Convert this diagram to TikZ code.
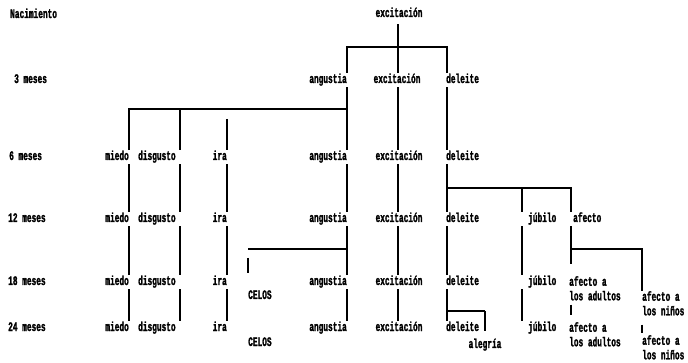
\documentclass[tikz,border=0pt]{standalone}
\usepackage{fontspec}
% tall, narrow, heavy dot-matrix-like lettering
\newfontfamily\dotfont[FakeStretch=0.6,FakeBold=1.5]{Liberation Mono}
\tikzset{
  lbl/.style={font=\dotfont\bfseries\fontsize{13}{14.5}\selectfont, inner sep=2pt, text height=8pt, text depth=2pt},
  two/.style={font=\dotfont\bfseries\fontsize{13}{14.5}\selectfont, inner sep=0pt, align=left, anchor=north west},
  link/.style={line width=1.4pt}
}
\begin{document}
\begin{tikzpicture}[x=1pt,y=-1pt]
\useasboundingbox (0,0) rectangle (688,363);

% age column
\node[lbl,anchor=west] (nac) at (8,15)  {Nacimiento};
\node[lbl,anchor=west] (m3)  at (12,80) {3 meses};
\node[lbl,anchor=west] (m6)  at (7,157) {6 meses};
\node[lbl,anchor=west] (m12) at (6,219) {12 meses};
\node[lbl,anchor=west] (m18) at (6,282) {18 meses};
\node[lbl,anchor=west] (m24) at (6,328) {24 meses};

% birth
\node[lbl] (ex0) at (399,14) {excitación};

% 3 months
\node[lbl,anchor=east] (an3) at (349,80) {angustia};
\node[lbl]             (ex3) at (397,80) {excitación};
\node[lbl,anchor=west] (de3) at (444,80) {deleite};

% 6, 12, 18, 24 months: shared columns
\foreach \r/\y in {6/157,12/219,18/282,24/328}{
  \node[lbl,anchor=east] (mi\r) at (131,\y) {miedo};
  \node[lbl,anchor=west] (di\r) at (136,\y) {disgusto};
  \node[lbl,anchor=east] (ir\r) at (229,\y) {ira};
  \node[lbl,anchor=east] (an\r) at (349,\y) {angustia};
  \node[lbl]             (ex\r) at (399,\y) {excitación};
  \node[lbl,anchor=west] (de\r) at (444,\y) {deleite};
}
\foreach \r/\y in {12/219,18/282,24/328}{
  \node[lbl,anchor=west] (ju\r) at (526,\y) {júbilo};
}
\node[lbl,anchor=west] (af12) at (571,219) {afecto};
\node[two] (ad18) at (569,276) {afecto a\\los adultos};
\node[two] (ad24) at (569,322) {afecto a\\los adultos};
\node[two] (ni18) at (642,291) {afecto a\\los niños};
\node[two] (ni24) at (642,335) {afecto a\\los niños};
\node[lbl,anchor=west] (ce18) at (246,296) {CELOS};
\node[lbl,anchor=west] (ce24) at (246,343) {CELOS};
\node[lbl] (al24) at (485,345) {alegría};

% column lines and branching bars
\coordinate (cMi) at (129,0);
\coordinate (cDi) at (180,0);
\coordinate (cIr) at (227,0);
\coordinate (cCe) at (248,0);
\coordinate (cAn) at (347,0);
\coordinate (cEx) at (398,0);
\coordinate (cDe) at (447,0);
\coordinate (cAl) at (485,0);
\coordinate (cJu) at (522,0);
\coordinate (cAf) at (571,0);
\coordinate (cNi) at (642,0);
\coordinate (bar0) at (0,47);
\coordinate (bar1) at (0,109);
\coordinate (bar2) at (0,188);
\coordinate (bar3) at (0,249);
\coordinate (bar4) at (0,311);

\begin{scope}[link]
  % birth -> 3 months
  \draw[shorten <=3pt] (cEx |- ex0.south) -- (cEx |- ex3.north);
  \draw (cAn |- an3.north) -- (cAn |- bar0) -- (cDe |- bar0) -- (cDe |- de3.north);
  % 3 -> 6 months
  \draw (cAn |- an3.south) -- (cAn |- an6.north);
  \draw (cEx |- ex3.south) -- (cEx |- ex6.north);
  \draw (cDe |- de3.south) -- (cDe |- de6.north);
  \draw (cMi |- mi6.north) -- (cMi |- bar1) -- (cAn |- bar1);
  \draw (cDi |- bar1) -- (cDi |- di6.north);
  \draw[shorten <=10pt] (cIr |- bar1) -- (cIr |- ir6.north);
  % straight continuations down the columns
  \foreach \c/\n in {Mi/mi,Di/di,Ir/ir,An/an,Ex/ex,De/de}{
    \draw (c\c |- \n6.south)  -- (c\c |- \n12.north);
    \draw (c\c |- \n12.south) -- (c\c |- \n18.north);
    \draw (c\c |- \n18.south) -- (c\c |- \n24.north);
  }
  \draw (cJu |- ju12.south) -- (cJu |- ju18.north);
  \draw (cJu |- ju18.south) -- (cJu |- ju24.north);
  % deleite branches into júbilo and afecto
  \draw (cDe |- bar2) -- (cAf |- bar2) -- (cAf |- af12.north);
  \draw (cJu |- bar2) -- (cJu |- ju12.north);
  % afecto splits into adults and children
  \draw[shorten >=12pt] (cAf |- af12.south) -- (cAf |- ad18.north);
  \draw (cAf |- bar3) -- (cNi |- bar3) -- (cNi |- ni18.north);
  \draw[shorten <=4pt, shorten >=7pt] (cAf |- ad18.south) -- (cAf |- ad24.north);
  \draw[shorten <=9pt, shorten >=2pt] (cNi |- ni18.south) -- (cNi |- ni24.north);
  % jealousy from distress
  \draw (cCe |- bar3) -- (cAn |- bar3);
  \draw[shorten <=9pt, shorten >=16pt] (cCe |- bar3) -- (cCe |- ce18.north);
  % elation from delight
  \draw (cDe |- bar4) -- (cAl |- bar4);
  \draw[shorten >=7pt] (cAl |- bar4) -- (cAl |- al24.north);
\end{scope}
\end{tikzpicture}
\end{document}
